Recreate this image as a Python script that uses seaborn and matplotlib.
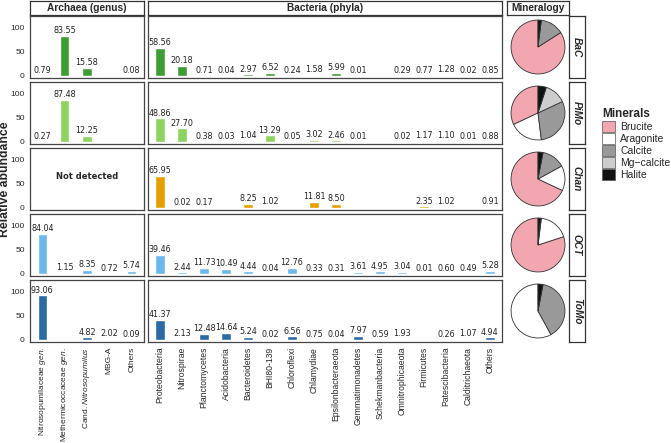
import numpy as np
import pandas as pd
import matplotlib
matplotlib.use("Agg")
import matplotlib.pyplot as plt
from matplotlib import font_manager
from matplotlib.patches import Patch
import seaborn as sns

nan = np.nan

# sites (rows) and their bar colours
sites = ["BaC", "PiMo", "Chan", "OCT", "ToMo"]
site_colors = ["#3e9c35", "#8dd35f", "#e69f00", "#6cb8ea", "#2c6aa3"]

# Archaea (genus)
archaea = ["Nitrosopumilaceae gen.", "Methermicoccaceae gen.", "Cand. Nitrosopumilus", "MBG-A", "Others"]
archaea_labels = [r"Nitrosopumilaceae $\it{gen.}$", r"Methermicoccaceae $\it{gen.}$",
                  r"Cand. $\it{Nitrosopumilus}$", "MBG-A", "Others"]
archaea_bac = [0.79, 83.55, 15.58, nan, 0.08]
archaea_pimo = [0.27, 87.48, 12.25, nan, nan]
archaea_chan = [nan, nan, nan, nan, nan]
archaea_oct = [84.04, 1.15, 8.35, 0.72, 5.74]
archaea_tomo = [93.06, nan, 4.82, 2.02, 0.09]

# Bacteria (phyla)
bacteria = ["Proteobacteria", "Nitrospirae", "Planctomycetes", "Acidobacteria", "Bacteroidetes",
            "BHI80-139", "Chloroflexi", "Chlamydiae", "Epsilonbacteraeota", "Gemmatimonadetes",
            "Schekmanbacteria", "Omnitrophicaeota", "Firmicutes", "Patescibacteria",
            "Calditrichaeota", "Others"]
bacteria_bac = [58.56, 20.18, 0.71, 0.04, 2.97, 6.52, 0.24, 1.58, 5.99, 0.01, nan, 0.29, 0.77, 1.28, 0.02, 0.85]
bacteria_pimo = [48.86, 27.70, 0.38, 0.03, 1.04, 13.29, 0.05, 3.02, 2.46, 0.01, nan, 0.02, 1.17, 1.10, 0.01, 0.88]
bacteria_chan = [65.95, 0.02, 0.17, nan, 8.25, 1.02, nan, 11.81, 8.50, nan, nan, nan, 2.35, 1.02, nan, 0.91]
bacteria_oct = [39.46, 2.44, 11.73, 10.49, 4.44, 0.04, 12.76, 0.33, 0.31, 3.61, 4.95, 3.04, 0.01, 0.60, 0.49, 5.28]
bacteria_tomo = [41.37, 2.13, 12.48, 14.64, 5.24, 0.02, 6.56, 0.75, 0.04, 7.97, 0.59, 1.93, nan, 0.26, 1.07, 4.94]

# Mineralogy (estimated shares, %)
minerals = ["Brucite", "Aragonite", "Calcite", "Mg\u2212calcite", "Halite"]
mineral_colors = ["#f1a6b0", "#ffffff", "#999999", "#cdcdcd", "#111111"]
minerals_bac = [84, 0, 14, 0, 2]
minerals_pimo = [32, 20, 30, 13, 5]
minerals_chan = [68, 15, 14, 0, 3]
minerals_oct = [80, 18, 0.5, 0, 1.5]
minerals_tomo = [0, 58, 39, 0, 3]

archaea_rows = [archaea_bac, archaea_pimo, archaea_chan, archaea_oct, archaea_tomo]
bacteria_rows = [bacteria_bac, bacteria_pimo, bacteria_chan, bacteria_oct, bacteria_tomo]
mineral_rows = [minerals_bac, minerals_pimo, minerals_chan, minerals_oct, minerals_tomo]

sns.set_style("white")
names = {f.name for f in font_manager.fontManager.ttflist}
plt.rcParams['font.family'] = ['Liberation Sans', 'DejaVu Sans']
plt.rcParams['mathtext.fontset'] = 'custom'
plt.rcParams['mathtext.rm'] = 'Liberation Sans'
plt.rcParams['mathtext.it'] = 'Liberation Sans:italic'
narrow = 'Liberation Sans Narrow' if 'Liberation Sans Narrow' in names else 'DejaVu Sans'

W, H = 671, 443
fig = plt.figure(figsize=(W / 100, H / 100), dpi=100)


def px_axes(x0, y0, x1, y1):
    return fig.add_axes([x0 / W, 1 - y1 / H, (x1 - x0) / W, (y1 - y0) / H])


def frame(ax, color="#444444", lw=0.9):
    for s in ax.spines.values():
        s.set_visible(True)
        s.set_color(color)
        s.set_linewidth(lw)


def strip(x0, y0, x1, y1, text, rotation=0, style="normal"):
    ax = px_axes(x0, y0, x1, y1)
    ax.set_xticks([])
    ax.set_yticks([])
    ax.set_facecolor("white")
    frame(ax, "#333333", 0.9)
    ax.text(0.5, 0.5, text, ha="center", va="center", rotation=rotation,
            fontsize=7.3, fontweight="bold", fontstyle=style, transform=ax.transAxes)


row_tops = [16, 82, 148, 214, 280]
row_h = 62
arch_x = (30, 144)
bact_x = (148, 502)
pie_x = (507, 569)

strip(arch_x[0], 1, arch_x[1], 15, "Archaea (genus)")
strip(bact_x[0], 1, bact_x[1], 15, "Bacteria (phyla)")
strip(pie_x[0], 1, pie_x[1], 15, "Mineralogy")


def bar_panel(ax, cats, vals, color, last):
    df = pd.DataFrame({"taxon": cats, "abund": vals}).dropna()
    if len(df):
        sns.barplot(data=df, x="taxon", y="abund", order=cats, color=color,
                    width=0.42, saturation=1, ax=ax)
        ax.bar_label(ax.containers[0], fmt="%.2f", padding=0.5, fontsize=5.8,
                     family=narrow, color="#222222")
    ax.set_xlim(-0.55, len(cats) - 0.45)
    ax.set_ylim(-5, 125)
    ax.set_xlabel("")
    ax.set_ylabel("")
    frame(ax)
    if last:
        ax.set_xticks(range(len(cats)))
        ax.tick_params(axis="x", length=2.5, width=0.6, pad=1, color="#333333")
    else:
        ax.set_xticks([])


for i, site in enumerate(sites):
    top = row_tops[i]
    bot = top + row_h
    last = i == len(sites) - 1

    ax_a = px_axes(arch_x[0], top, arch_x[1], bot)
    bar_panel(ax_a, archaea, archaea_rows[i], site_colors[i], last)
    ax_a.set_yticks([0, 50, 100])
    ax_a.tick_params(axis="y", length=2.5, width=0.6, pad=1.2, labelsize=6.0, color="#333333")
    if np.all(np.isnan(archaea_rows[i])):
        ax_a.text(2, 65, "Not detected", ha="center", va="center", fontsize=6,
                  fontweight="bold", family=narrow)
    if last:
        ax_a.set_xticklabels(archaea_labels, rotation=90, fontsize=6.0)

    ax_b = px_axes(bact_x[0], top, bact_x[1], bot)
    bar_panel(ax_b, bacteria, bacteria_rows[i], site_colors[i], last)
    ax_b.set_yticks([])
    if last:
        ax_b.set_xticklabels(bacteria, rotation=90, fontsize=6.2)

    ax_p = px_axes(pie_x[0], top, pie_x[1], bot)
    share = [v for v in mineral_rows[i] if v > 0]
    cols = [c for v, c in zip(mineral_rows[i], mineral_colors) if v > 0]
    ax_p.pie(share, colors=cols, startangle=90, counterclock=True, radius=1,
             wedgeprops=dict(edgecolor="#333333", linewidth=0.6))
    ax_p.set_xlim(-1.15, 1.15)
    ax_p.set_ylim(-1.15, 1.15)
    ax_p.set_aspect("auto")
    ax_p.set_xticks([])
    ax_p.set_yticks([])
    frame(ax_p)

    strip(pie_x[1], top, pie_x[1] + 16, bot, site, rotation=-90, style="italic")

fig.text(5 / W, 1 - 179 / H, "Relative abundance", rotation=90, ha="center", va="center",
         fontsize=8.8, fontweight="bold")

handles = [Patch(facecolor=c, edgecolor="#555555", linewidth=0.5, label=m)
           for m, c in zip(minerals, mineral_colors)]
leg = fig.legend(handles=handles, title="Minerals", loc="upper left",
                 bbox_to_anchor=(595 / W, 1 - 101 / H), frameon=False, fontsize=7.5,
                 title_fontproperties={"weight": "bold", "size": 8.5},
                 handlelength=1.2, handleheight=1.25, labelspacing=0.08,
                 handletextpad=0.5, borderpad=0.2)
leg._legend_box.align = "left"

fig.savefig("out.png", dpi=100)
